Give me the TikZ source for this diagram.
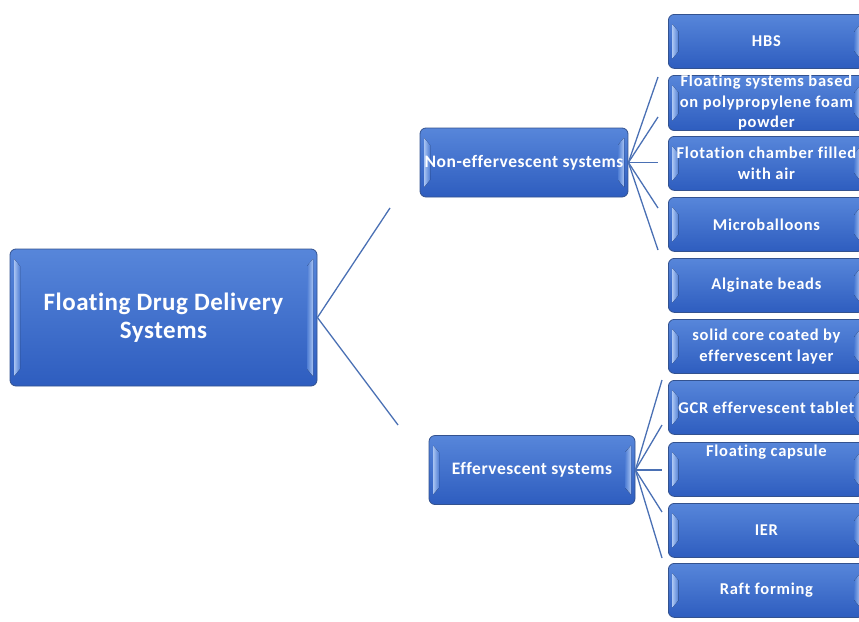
\documentclass[tikz,border=0pt]{standalone}
\usepackage{fontspec}
\setmainfont{Carlito}[Ligatures={NoCommon}]
\usetikzlibrary{calc}
\definecolor{boxtop}{HTML}{5786DA}
\definecolor{boxbot}{HTML}{2E5DBF}
\definecolor{boxedge}{HTML}{33528F}
\definecolor{shine}{HTML}{A8C3F2}
\definecolor{wire}{HTML}{4A70B4}
\tikzset{
  bevelbox/.style={
    rounded corners=6pt, draw=boxedge, line width=0.8pt,
    top color=boxtop, bottom color=boxbot,
    text=white, align=center, inner sep=0pt,
    path picture={
      \begin{scope}[sharp corners]
      \fill[left color=shine, right color=boxtop!80!boxbot]
        ([shift={(4pt,-10pt)}]path picture bounding box.north west) --
        ([shift={(10pt,-17pt)}]path picture bounding box.north west) --
        ([shift={(10pt,17pt)}]path picture bounding box.south west) --
        ([shift={(4pt,10pt)}]path picture bounding box.south west) -- cycle;
      \fill[right color=shine, left color=boxtop!80!boxbot]
        ([shift={(-4pt,-10pt)}]path picture bounding box.north east) --
        ([shift={(-10pt,-17pt)}]path picture bounding box.north east) --
        ([shift={(-10pt,17pt)}]path picture bounding box.south east) --
        ([shift={(-4pt,10pt)}]path picture bounding box.south east) -- cycle;
      \end{scope}
    }},
  rootbox/.style={bevelbox, minimum width=307pt, minimum height=137pt,
    font=\bfseries\fontsize{25}{28}\selectfont\addfontfeature{LetterSpace=2}},
  midbox/.style={bevelbox, minimum height=69pt,
    font=\bfseries\fontsize{17.5}{20}\selectfont\addfontfeature{LetterSpace=3}},
  leafbox/.style={bevelbox, minimum width=196pt, minimum height=54pt,
    anchor=north west,
    font=\bfseries\fontsize{16.5}{20.5}\selectfont\addfontfeature{LetterSpace=4.5}},
  wireline/.style={draw=wire, line width=1.3pt},
}
\begin{document}
\begin{tikzpicture}[x=1pt,y=-1pt]
\useasboundingbox (0,0) rectangle (859,621);
\begin{scope}
\clip (0,0) rectangle (859,621);

% root and the two branches
\node[rootbox] (root) at (163.5,317.5) {Floating Drug Delivery\\Systems};
\node[midbox, minimum width=208pt] (non) at (524,162.5) {Non-effervescent systems};
\node[midbox, minimum width=206pt] (eff) at (532,470) {Effervescent systems};

% leaves of the non-effervescent branch
\node[leafbox] (hbs)  at (668,14)  {HBS};
\node[leafbox] (foam) at (668,75)  {Floating systems based\\on polypropylene foam\\powder};
\node[leafbox] (cham) at (668,136) {Flotation chamber filled\\with air};
\node[leafbox] (micro) at (668,197) {Microballoons};
\node[leafbox] (algi) at (668,258) {Alginate beads};

% leaves of the effervescent branch
\node[leafbox] (core) at (668,319) {solid core coated by\\effervescent layer};
\node[leafbox] (gcr)  at (668,380) {GCR effervescent tablet};
\node[leafbox] (caps) at (668,442) {Floating capsule\\[10pt]\strut};
\node[leafbox] (ier)  at (668,503) {IER};
\node[leafbox] (raft) at (668,563) {Raft forming};

% free ends of the connectors
\coordinate (r1) at (390,208);
\coordinate (r2) at (398,425);
\coordinate (n1) at (658,77);
\coordinate (n2) at (658,117);
\coordinate (n3) at (658,162.5);
\coordinate (n4) at (658,208);
\coordinate (n5) at (658,250);
\coordinate (e1) at (662,380);
\coordinate (e2) at (662,425);
\coordinate (e3) at (662,470);
\coordinate (e4) at (662,512);
\coordinate (e5) at (662,558);

\foreach \t in {r1,r2} \draw[wireline] (root.east) -- (\t);
\foreach \t in {n1,n2,n3,n4,n5} \draw[wireline] (non.east) -- (\t);
\foreach \t in {e1,e2,e3,e4,e5} \draw[wireline] (eff.east) -- (\t);
\end{scope}
\end{tikzpicture}
\end{document}
